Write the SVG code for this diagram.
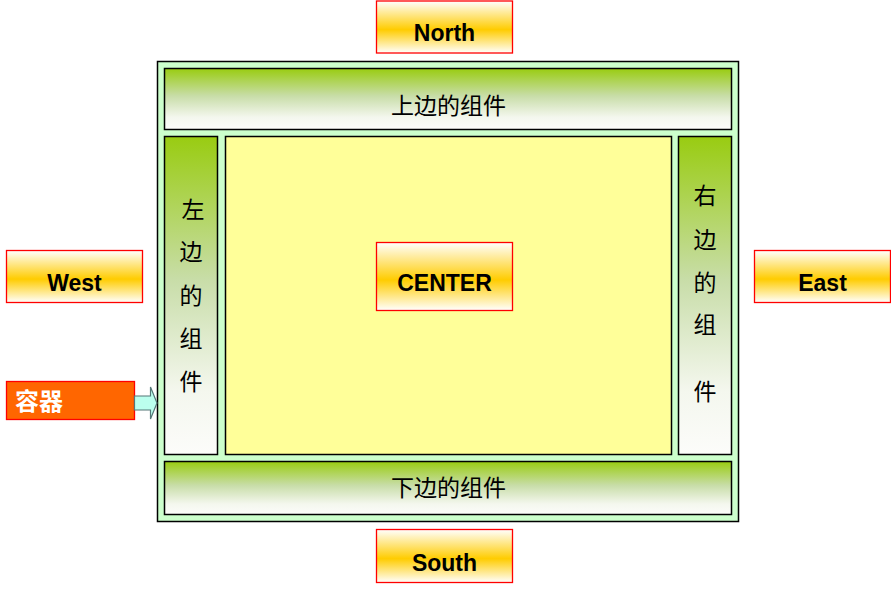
<svg xmlns="http://www.w3.org/2000/svg" width="891" height="591" viewBox="0 0 891 591">
<defs>
<linearGradient id="gGreen" x1="0" y1="0" x2="0" y2="1">
<stop offset="0" stop-color="#99CC11"/>
<stop offset="0.45" stop-color="#C8DDA8"/>
<stop offset="0.8" stop-color="#F4F7EE"/>
<stop offset="1" stop-color="#FCFCFA"/>
</linearGradient>
<linearGradient id="gOrange" x1="0" y1="0" x2="0" y2="1">
<stop offset="0" stop-color="#FFFFFF"/>
<stop offset="0.55" stop-color="#FFCC00"/>
<stop offset="1" stop-color="#FFFFFF"/>
</linearGradient>
<style>
.bar{fill:url(#gGreen);stroke:#000;stroke-width:1.5}
.lbl{fill:url(#gOrange);stroke:#FF0000;stroke-width:1.3}
.lt{font-family:"Liberation Sans",Arial,sans-serif;font-weight:bold;font-size:23px;fill:#000;text-anchor:middle}
.cj{font-family:"Liberation Sans","Noto Sans CJK SC",sans-serif;font-size:23px;fill:#000;text-anchor:middle;dominant-baseline:central}
</style>
</defs>
<rect width="891" height="591" fill="#FFFFFF"/>
<g id="container">
<rect x="157.5" y="61.5" width="581" height="460" fill="#CCFFCC" stroke="#000" stroke-width="1.5"/>
</g>
<g id="top">
<rect class="bar" x="164.5" y="68.5" width="567" height="61"/>
<text class="cj" x="448.5" y="106">上边的组件</text>
</g>
<g id="left">
<rect class="bar" x="164.5" y="136.5" width="53" height="318"/>
<text class="cj" x="193" y="210">左</text>
<text class="cj" x="191" y="252">边</text>
<text class="cj" x="191" y="296">的</text>
<text class="cj" x="191" y="339">组</text>
<text class="cj" x="191" y="382">件</text>
</g>
<g id="center">
<rect x="225.5" y="136.5" width="446" height="318" fill="#FFFF99" stroke="#000" stroke-width="1.5"/>
</g>
<g id="right">
<rect class="bar" x="678.5" y="136.5" width="53" height="318"/>
<text class="cj" x="705" y="196">右</text>
<text class="cj" x="705" y="240">边</text>
<text class="cj" x="705" y="283">的</text>
<text class="cj" x="705" y="325">组</text>
<text class="cj" x="705" y="392">件</text>
</g>
<g id="bottom">
<rect class="bar" x="164.5" y="461.5" width="567" height="53"/>
<text class="cj" x="448.5" y="488">下边的组件</text>
</g>
<g id="north">
<rect class="lbl" x="376.5" y="1" width="136" height="52"/>
<text class="lt" x="444.5" y="40.5">North</text>
</g>
<g id="south">
<rect class="lbl" x="376.5" y="529.5" width="136" height="53"/>
<text class="lt" x="444.5" y="570.5">South</text>
</g>
<g id="west">
<rect class="lbl" x="6.5" y="250.5" width="136" height="52"/>
<text class="lt" x="74.5" y="291">West</text>
</g>
<g id="east">
<rect class="lbl" x="754.5" y="250.5" width="136" height="52"/>
<text class="lt" x="822.5" y="291">East</text>
</g>
<g id="centerLabel">
<rect class="lbl" x="376.5" y="242.5" width="136" height="68"/>
<text class="lt" x="444.5" y="291">CENTER</text>
</g>
<g id="holder">
<rect x="6.5" y="381.5" width="128" height="38" fill="#FF6600" stroke="#FF0000" stroke-width="1.3"/>
<text x="15" y="410" font-family="'Noto Sans CJK SC',sans-serif" font-weight="bold" font-size="24" fill="#FFFFFF">容器</text>
</g>
<g id="connectors">
<path d="M134.5,396 L150.5,396 L150.5,387 L157,403 L150.5,419 L150.5,410 L134.5,410 Z" fill="#BBFFEE" stroke="#557777" stroke-width="1.2"/>
</g>
</svg>
